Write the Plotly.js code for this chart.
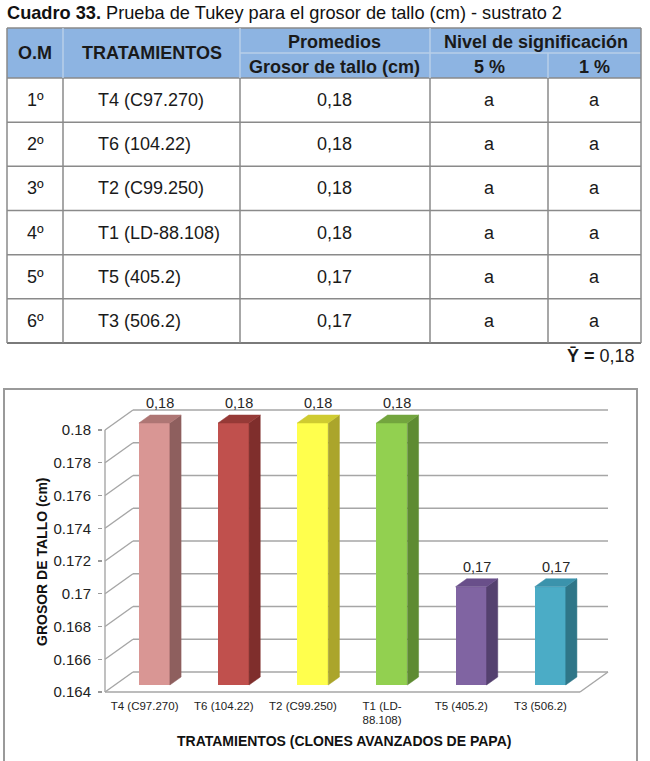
<!DOCTYPE html>
<html>
<head>
<meta charset="utf-8">
<script src="https://cdn.plot.ly/plotly-3.0.1.min.js"></script>
<style>html,body{margin:0;padding:0;background:#fff;}#chart{width:650px;height:761px;}</style>
</head>
<body>
<div id="chart"></div>
<script>
// ---------- DATA ----------
const tableTitleBold = 'Cuadro 33.';
const tableTitleRest = ' Prueba de Tukey para el grosor de tallo (cm) - sustrato 2';
const headerOM = 'O.M';
const headerTrat = 'TRATAMIENTOS';
const headerProm = 'Promedios';
const headerGrosor = 'Grosor de tallo (cm)';
const headerNivel = 'Nivel de significación';
const header5 = '5 %';
const header1 = '1 %';
const orden = ['1º', '2º', '3º', '4º', '5º', '6º'];
const tratamientos = ['T4 (C97.270)', 'T6 (104.22)', 'T2 (C99.250)', 'T1 (LD-88.108)', 'T5 (405.2)', 'T3 (506.2)'];
const values = [0.18, 0.18, 0.18, 0.18, 0.17, 0.17];
const sig5 = ['a', 'a', 'a', 'a', 'a', 'a'];
const sig1 = ['a', 'a', 'a', 'a', 'a', 'a'];
const media = '0,18';
const xTickLabels = ['T4 (C97.270)', 'T6 (104.22)', 'T2 (C99.250)', 'T1 (LD-<br>88.108)', 'T5 (405.2)', 'T3 (506.2)'];
const yTickVals = [0.164, 0.166, 0.168, 0.17, 0.172, 0.174, 0.176, 0.178, 0.18];
const yTickLabels = ['0.164', '0.166', '0.168', '0.17', '0.172', '0.174', '0.176', '0.178', '0.18'];
const xTitle = 'TRATAMIENTOS (CLONES AVANZADOS DE PAPA)';
const yTitle = 'GROSOR DE TALLO (cm)';

// ---------- STYLES ----------
const frontColors = ['#D99694', '#C0504D', '#FFFF4D', '#92D050', '#8064A2', '#4BACC6'];
const sideColors  = ['#8E5F5E', '#7F2E2C', '#ABA52B', '#5E8B32', '#54416F', '#2F7688'];
const topColors   = ['#AE7674', '#963A37', '#CFCB31', '#73A53E', '#694F8A', '#3B93AC'];
const FONT = 'Liberation Sans, Arial, sans-serif';

const W = 650, H = 761;
const px = x => x / W;
const py = y => 1 - y / H;
const fmt = v => v.toFixed(2).replace('.', ',');

// ---------- 3D geometry (pixel layout -> data units) ----------
const X0 = 105, Y0 = 692, XR = 612, YT = 398;
const catW = 475 / 6;
const yMin = 0.164;
const yScale = 262 / 0.016;
const dxD = 28 / catW, dyD = 20 / yScale;   // depth of floor / walls
const fF = 0.35, fB = 0.75;                 // bar depth (front / back fraction)
const barW = 31 / catW;

const shapes = [];
const annotations = [];

// ---------- TABLE ----------
const colX = [7, 63, 240, 430, 548, 641];
const hTop = 28, hMid = 53, hBot = 78;
const rowH = (343 - hBot) / orden.length;
const rowY = orden.map((_, i) => hBot + i * rowH);
const tBot = hBot + orden.length * rowH;
const lineCol = '#8a8a8a';
function pline(x0, y0, x1, y1, color, w) {
  shapes.push({type: 'line', xref: 'paper', yref: 'paper', x0: px(x0), y0: py(y0), x1: px(x1), y1: py(y1),
    line: {color: color || lineCol, width: w || 1.5}, layer: 'above'});
}
shapes.push({type: 'rect', xref: 'paper', yref: 'paper', x0: px(colX[0]), x1: px(colX[5]), y0: py(hTop), y1: py(hBot),
  fillcolor: '#8DB4E2', line: {width: 0}, layer: 'below'});
pline(colX[0], hTop, colX[5], hTop);
pline(colX[2], hMid, colX[5], hMid, '#b8cfe9', 1.5);
pline(colX[0], hBot, colX[5], hBot);
rowY.slice(1).forEach(y => pline(colX[0], y, colX[5], y));
pline(colX[0], tBot, colX[5], tBot, '#7a7a7a', 2);
colX.forEach((x, j) => {
  if (j === 4) { pline(x, hMid, x, hBot, '#b8cfe9', 1.5); pline(x, hBot, x, tBot); }
  else if (j === 1 || j === 2 || j === 3) { pline(x, hTop, x, hBot, '#b8cfe9', 1.5); pline(x, hBot, x, tBot); }
  else pline(x, hTop, x, tBot);
});
function ptext(text, x, y, opts) {
  annotations.push(Object.assign({text: text, xref: 'paper', yref: 'paper', x: px(x), y: py(y),
    showarrow: false, xanchor: 'center', yanchor: 'middle',
    font: {family: FONT, size: 17, color: '#111'}}, opts || {}));
}
ptext('<b>' + tableTitleBold + '</b>' + tableTitleRest, 5, 13, {xanchor: 'left', font: {family: FONT, size: 18.2, color: '#111'}});
const hFont = {family: FONT, size: 18, color: '#1a1a1a'};
ptext('<b>' + headerOM + '</b>', (colX[0] + colX[1]) / 2, (hTop + hBot) / 2, {font: hFont});
ptext('<b>' + headerTrat + '</b>', (colX[1] + colX[2]) / 2, (hTop + hBot) / 2, {font: hFont});
ptext('<b>' + headerProm + '</b>', (colX[2] + colX[3]) / 2, (hTop + hMid) / 2 + 1, {font: hFont});
ptext('<b>' + headerNivel + '</b>', (colX[3] + colX[5]) / 2, (hTop + hMid) / 2 + 1, {font: hFont});
ptext('<b>' + headerGrosor + '</b>', (colX[2] + colX[3]) / 2, (hMid + hBot) / 2 + 1, {font: hFont});
ptext('<b>' + header5 + '</b>', (colX[3] + colX[4]) / 2, (hMid + hBot) / 2 + 1, {font: hFont});
ptext('<b>' + header1 + '</b>', (colX[4] + colX[5]) / 2, (hMid + hBot) / 2 + 1, {font: hFont});
const bFont = {family: FONT, size: 18, color: '#1a1a1a'};
orden.forEach((o, i) => {
  const yc = rowY[i] + rowH / 2;
  ptext(o, (colX[0] + colX[1]) / 2, yc, {font: bFont});
  ptext(tratamientos[i], 96, yc, {xanchor: 'left', font: bFont});
  ptext(fmt(values[i]), (colX[2] + colX[3]) / 2, yc, {font: bFont});
  ptext(sig5[i], (colX[3] + colX[4]) / 2, yc, {font: bFont});
  ptext(sig1[i], (colX[4] + colX[5]) / 2, yc, {font: bFont});
});
ptext('<b>Ȳ =</b> ' + media, 637, 356, {xanchor: 'right', font: bFont});

// ---------- CHART FRAME ----------
shapes.push({type: 'rect', xref: 'paper', yref: 'paper', x0: px(4), x1: px(637), y0: py(800), y1: py(389),
  line: {color: '#9a9a9a', width: 2}, fillcolor: 'rgba(0,0,0,0)', layer: 'below'});

// ---------- WALLS / GRID (data coordinates) ----------
const gridCol = '#a6a6a6';
const xl = -0.5, xr = values.length - 0.5;
function dline(x0, y0, x1, y1) {
  shapes.push({type: 'line', xref: 'x', yref: 'y', x0: x0, y0: y0, x1: x1, y1: y1,
    line: {color: gridCol, width: 1.4}, layer: 'below'});
}
yTickVals.forEach(t => {
  dline(xl, t, xl + dxD, t + dyD);
  dline(xl + dxD, t + dyD, xr + dxD, t + dyD);
});
dline(xl, yMin, xr, yMin);
dline(xr, yMin, xr + dxD, yMin + dyD);
dline(xl, yMin, xl, yTickVals[yTickVals.length - 1]);

// ---------- BARS ----------
const idx = values.map((_, i) => i);
const traces = [];
traces.push({type: 'bar', x: idx.map(i => i + fF * dxD), y: values.map(v => v - yMin),
  base: values.map(() => yMin + fF * dyD), width: values.map(() => barW),
  marker: {color: frontColors, line: {width: 0}}, hoverinfo: 'skip', showlegend: false});
values.forEach((v, i) => {
  const xL = i + fF * dxD - barW / 2, xR = i + fF * dxD + barW / 2;
  const b = yMin + fF * dyD, t = v + fF * dyD;
  const ddx = (fB - fF) * dxD, ddy = (fB - fF) * dyD;
  traces.push({type: 'scatter', mode: 'lines', x: [xR, xR, xR + ddx, xR + ddx, xR], y: [b, t, t + ddy, b + ddy, b],
    fill: 'toself', fillcolor: sideColors[i], line: {width: 0.5, color: sideColors[i]}, hoverinfo: 'skip', showlegend: false});
  traces.push({type: 'scatter', mode: 'lines', x: [xL, xR, xR + ddx, xL + ddx, xL], y: [t, t, t + ddy, t + ddy, t],
    fill: 'toself', fillcolor: topColors[i], line: {width: 0.5, color: topColors[i]}, hoverinfo: 'skip', showlegend: false});
  annotations.push({text: fmt(v), xref: 'x', yref: 'y', x: i + fF * dxD + (fB - fF) * dxD / 2, y: v + fB * dyD,
    yanchor: 'bottom', xanchor: 'center', yshift: 2, showarrow: false,
    font: {family: FONT, size: 14.5, color: '#262626'}});
});

// axis titles
annotations.push({text: '<b>' + xTitle + '</b>', xref: 'paper', yref: 'paper', x: px(344), y: py(741),
  showarrow: false, xanchor: 'center', yanchor: 'middle', font: {family: FONT, size: 14, color: '#111'}});
annotations.push({text: '<b>' + yTitle + '</b>', xref: 'paper', yref: 'paper', x: px(42), y: py(562), textangle: -90,
  showarrow: false, xanchor: 'center', yanchor: 'middle', font: {family: FONT, size: 14, color: '#111'}});

const layout = {
  width: W, height: H,
  margin: {l: 0, r: 0, t: 0, b: 0, pad: 0},
  paper_bgcolor: '#ffffff', plot_bgcolor: 'rgba(0,0,0,0)',
  showlegend: false, bargap: 0,
  font: {family: FONT},
  xaxis: {domain: [(X0 - 2) / W, XR / W], range: [xl - 2 / catW, xl + (XR - X0) / catW],
    tickvals: idx, ticktext: xTickLabels, showgrid: false, zeroline: false, showline: false,
    ticks: '', ticklabelstandoff: 3, tickfont: {family: FONT, size: 11.5, color: '#222'}, automargin: false, fixedrange: true},
  yaxis: {domain: [1 - (Y0 + 2) / H, 1 - YT / H], range: [yMin - 2 / yScale, yMin + (Y0 - YT) / yScale],
    tickvals: yTickVals, ticktext: yTickLabels, showgrid: false, zeroline: false, showline: false,
    ticks: 'outside', ticklen: 4, tickcolor: '#999', tickwidth: 1.2, ticklabelstandoff: 4,
    tickfont: {family: FONT, size: 15, color: '#222'}, automargin: false, fixedrange: true},
  shapes: shapes,
  annotations: annotations
};
Plotly.newPlot('chart', traces, layout, {staticPlot: true, displayModeBar: false});
</script>
</body>
</html>
